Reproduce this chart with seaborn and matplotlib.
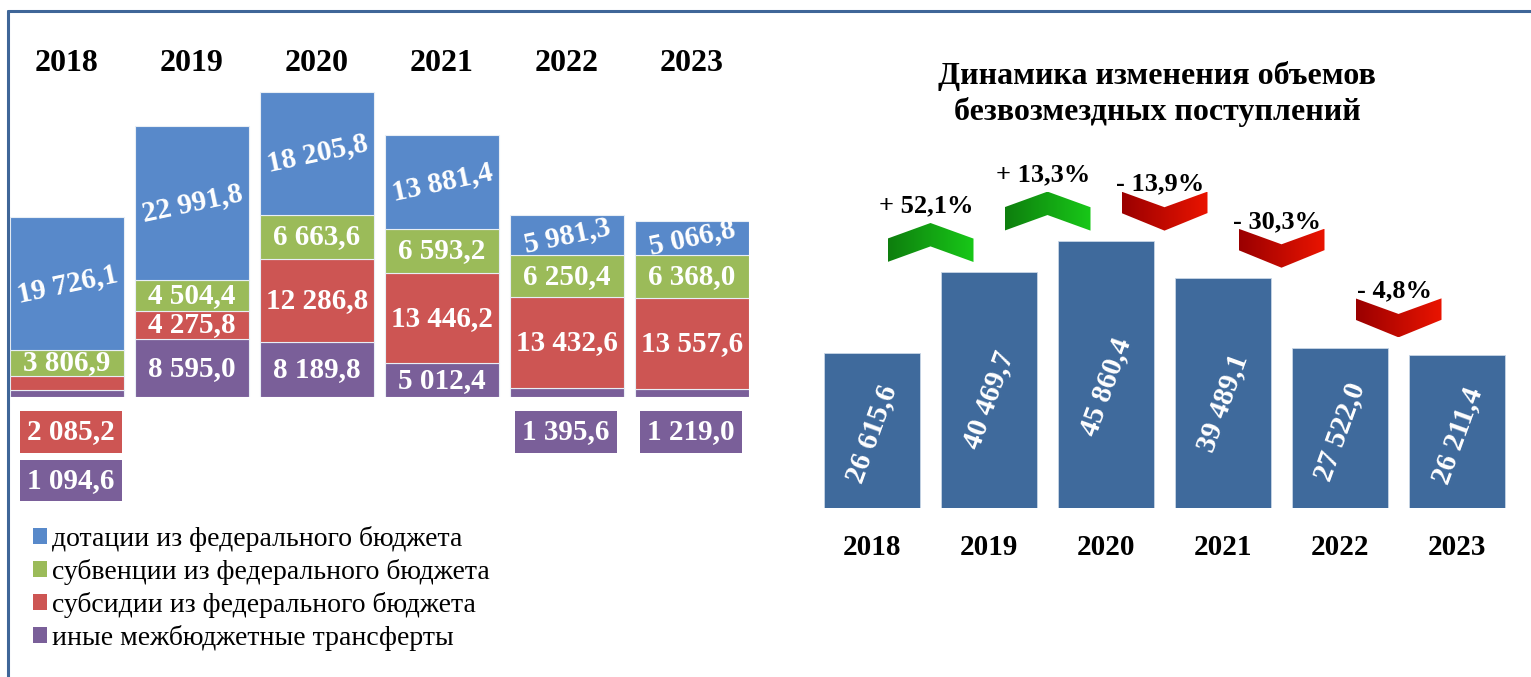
import matplotlib.pyplot as plt
import matplotlib.patches as mpatches
import numpy as np
import pandas as pd
import seaborn as sns
from matplotlib.colors import LinearSegmentedColormap
from matplotlib.lines import Line2D

# --- data -----------------------------------------------------------------
years = ["2018", "2019", "2020", "2021", "2022", "2023"]
dotations = [19726.1, 22991.8, 18205.8, 13881.4, 5981.3, 5066.8]
subventions = [3806.9, 4504.4, 6663.6, 6593.2, 6250.4, 6368.0]
subsidies = [2085.2, 4275.8, 12286.8, 13446.2, 13432.6, 13557.6]
other_transfers = [1094.6, 8595.0, 8189.8, 5012.4, 1395.6, 1219.0]
total_receipts = [26615.6, 40469.7, 45860.4, 39489.1, 27522.0, 26211.4]

series_names = [
    "дотации из федерального бюджета",
    "субвенции из федерального бюджета",
    "субсидии из федерального бюджета",
    "иные межбюджетные трансферты",
]
right_title = "Динамика изменения объемов\nбезвозмездных поступлений"

# --- style ----------------------------------------------------------------
sns.set_theme(style="white")
plt.rcParams["font.family"] = ["Liberation Serif", "DejaVu Serif"]
plt.rcParams["text.color"] = "black"
plt.rcParams["xtick.color"] = "black"

blue = "#5889CA"
green = "#9BBB59"
red = "#CD5553"
purple = "#7A5F99"
dark_blue = "#3F6A9C"
colors = [blue, green, red, purple]

W, H = 1531, 677
fig = plt.figure(figsize=(W / 100, H / 100), dpi=100)
fig.patch.set_facecolor("white")


def px_axes(left, right, top, bottom):
    return fig.add_axes([left / W, 1 - bottom / H, (right - left) / W, (bottom - top) / H])


def fmt(v):
    return f"{v:,.1f}".replace(",", " ").replace(".", ",")


# --- left: stacked bars ---------------------------------------------------
ax1 = px_axes(10, 749, 40, 397)
df_left = pd.DataFrame({"year": years})
stack_order = [other_transfers, subsidies, subventions, dotations]
stack_colors = [purple, red, green, blue]
bottoms = np.zeros(len(years))
for vals, col in zip(stack_order, stack_colors):
    df_left["value"] = vals
    sns.barplot(
        data=df_left, x="year", y="value", order=years, color=col,
        width=0.912, errorbar=None, bottom=bottoms, saturation=1,
        edgecolor="#e8eef5", linewidth=0.8, ax=ax1,
    )
    bottoms = bottoms + np.array(vals)

ax1.set_xlim(-0.456, 5.456)
ax1.set_ylim(0, 357 / 0.00672)
ax1.axis("off")

label_font = dict(fontsize=21, fontweight="bold", color="white")
for i in range(len(years)):
    base = 0.0
    for vals, col in zip(stack_order, stack_colors):
        v = vals[i]
        if v >= 2500:
            rot = 12 if col == blue else 0
            ax1.text(i, base + v / 2, fmt(v), ha="center", va="center",
                     rotation=rot, rotation_mode="anchor", **label_font)
        base += v
    # small segments get their labels in boxes under the bar, top series first
    row = 0
    for vals, col in zip(stack_order[::-1], stack_colors[::-1]):
        v = vals[i]
        if v < 2500:
            ax1.annotate(
                fmt(v), xy=(i, 0), xytext=(3 if i == 0 else -1, -25 - 35 * row),
                textcoords="offset points", ha="center", va="center",
                bbox=dict(boxstyle="square,pad=0.25", facecolor=col, edgecolor="none"),
                **label_font,
            )
            row += 1
    ax1.text(i, 0.935, years[i], transform=ax1.get_xaxis_transform(),
             ha="center", va="center", fontsize=23, fontweight="bold", color="black")

handles = [mpatches.Patch(facecolor=c, edgecolor="none") for c in colors]
fig.legend(
    handles, series_names, loc="upper left", bbox_to_anchor=(33 / W, 1 - 526 / H),
    frameon=False, fontsize=20, handlelength=0.52, handleheight=0.52,
    handletextpad=0.18, labelspacing=0.25, borderpad=0, borderaxespad=0,
)

# --- right: totals with change chevrons -----------------------------------
ax2 = px_axes(813.5, 1515.5, 150, 508)
df_right = pd.DataFrame({"year": years, "total": total_receipts})
sns.barplot(
    data=df_right, x="year", y="total", order=years, color=dark_blue,
    width=0.82, errorbar=None, saturation=1, edgecolor="#c9d6e6",
    linewidth=0.6, ax=ax2,
)
for i, v in enumerate(total_receipts):
    ax2.text(i, v * 0.42 + 1500, fmt(v), rotation=70, ha="center", va="center",
             rotation_mode="anchor", **label_font)

green_cmap = LinearSegmentedColormap.from_list("g", ["#0E7E0E", "#18C818"])
red_cmap = LinearSegmentedColormap.from_list("r", ["#9A0000", "#EA1400"])
grad = np.linspace(0, 1, 256).reshape(1, -1)
chev_w = 0.735
chev_h = 6700
chev_gap = 1800
for i in range(len(years) - 1):
    prev, cur = total_receipts[i], total_receipts[i + 1]
    change = (cur / prev - 1) * 100
    xc = i + 0.5
    x0, x1 = xc - chev_w / 2, xc + chev_w / 2
    y0 = max(prev, cur) + chev_gap
    if change >= 0:
        pts = [(x0, y0), (x0, y0 + 0.6 * chev_h), (xc, y0 + chev_h),
               (x1, y0 + 0.6 * chev_h), (x1, y0), (xc, y0 + 0.4 * chev_h)]
        cmap = green_cmap
        label = "+ " + f"{change:.1f}".replace(".", ",") + "%"
        text_off = 4
    else:
        pts = [(x0, y0 + chev_h), (xc, y0 + 0.6 * chev_h), (x1, y0 + chev_h),
               (x1, y0 + 0.45 * chev_h), (xc, y0), (x0, y0 + 0.45 * chev_h)]
        cmap = red_cmap
        label = "- " + f"{abs(change):.1f}".replace(".", ",") + "%"
        text_off = -3
    poly = mpatches.Polygon(pts, closed=True, facecolor="none", edgecolor="none")
    ax2.add_patch(poly)
    im = ax2.imshow(grad, cmap=cmap, extent=[x0, x1, y0, y0 + chev_h],
                    aspect="auto", origin="lower", zorder=3)
    im.set_clip_path(poly)
    ax2.annotate(label, xy=(xc, y0 + chev_h), xytext=(-3, text_off),
                 textcoords="offset points", ha="center", va="bottom",
                 fontsize=19, fontweight="bold", color="black", zorder=4)

ax2.set_xlim(-0.5, 5.5)
ax2.set_ylim(0, 358 / 0.00582)
sns.despine(ax=ax2, left=True, bottom=True)
ax2.set_yticks([])
ax2.set_xlabel("")
ax2.set_ylabel("")
ax2.tick_params(axis="x", length=0, pad=19)
for t in ax2.get_xticklabels():
    t.set_fontsize(21)
    t.set_fontweight("bold")
    t.set_color("black")

fig.text(1157 / W, 1 - 94 / H, right_title, ha="center", va="center",
         fontsize=23, fontweight="bold", linespacing=1.25, color="black")

# --- frame ----------------------------------------------------------------
frame_col = "#3F6698"
fig.add_artist(Line2D([8 / W, 1], [1 - 11 / H, 1 - 11 / H], color=frame_col, lw=2.2))
fig.add_artist(Line2D([8 / W, 8 / W], [0, 1 - 11 / H], color=frame_col, lw=2.2))

fig.savefig("out.png", dpi=100, facecolor="white")
